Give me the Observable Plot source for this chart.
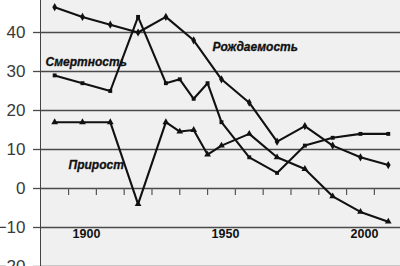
<!DOCTYPE html>
<html><head><meta charset="utf-8">
<script src="https://cdn.jsdelivr.net/npm/d3@7"></script>
<script src="https://cdn.jsdelivr.net/npm/@observablehq/plot@0.6"></script>
<style>
body{margin:0;background:#fff;}
#chart svg{display:block;}
</style>
</head><body><div id="chart"></div>
<script>
// Рождаемость (birth rate, per 1000)
const birthYears  = [1890,1900,1910,1920,1930,1940,1950,1960,1970,1980,1990,2000,2010];
const birthValues = [46.5,44,42,40,44,38,28,22,12,16,11,8,6];
// Смертность (death rate, per 1000)
const deathYears  = [1890,1900,1910,1920,1930,1935,1940,1945,1950,1960,1970,1980,1990,2000,2010];
const deathValues = [29,27,25,44,27,28,23,27,17,8,4,11,13,14,14];
// Прирост (natural growth, per 1000)
const growthYears  = [1890,1900,1910,1920,1930,1935,1940,1945,1950,1960,1970,1980,1990,2000,2010];
const growthValues = [17,17,17,-4,17,14.6,15,8.7,11,14,8,5,-2,-6,-8.5];

const yTicks = [-20,-10,0,10,20,30,40,50];
const xLabels = [1900,1950,2000];
const xTickYears = [1895,1905,1915,1925,1935,1945,1955,1965,1975,1985,1995,2005];

const seriesNames = ["Смертность","Рождаемость","Прирост"];
const labelYears  = [1886.7,1946.8,1895];
const labelValues = [32.3,36.2,5.9];

const toRows = (xs, ys) => xs.map((x, i) => ({x, y: ys[i]}));
const birth = toRows(birthYears, birthValues);
const death = toRows(deathYears, deathValues);
const growth = toRows(growthYears, growthValues);
const labels = seriesNames.map((t, i) => ({t, x: labelYears[i], y: labelValues[i]}));

const lineStyle = {x: "x", y: "y", stroke: "#111", strokeWidth: 2.1};

const chart = Plot.plot({
  width: 400, height: 266,
  marginLeft: 40, marginRight: 0, marginTop: -7, marginBottom: 0,
  style: {background: "white", color: "#333", fontFamily: "'Liberation Sans', Arial, sans-serif", overflow: "visible"},
  x: {domain: [1884.9, 2014.4], axis: null},
  y: {domain: [-20, 50]},
  marks: [
    Plot.frame({fill: "#f0f0f0", stroke: null}),
    Plot.gridY(yTicks, {stroke: "#4a4a4a", strokeOpacity: 1, strokeWidth: 1.3}),
    Plot.axisY(yTicks, {tickSize: 7, tickPadding: 8, fontSize: 17, fill: "#3a3a3a", stroke: "#4a4a4a", strokeWidth: 1.3, label: null}),
    Plot.frame({anchor: "left", stroke: "#444", strokeWidth: 1}),
    Plot.ruleX(xTickYears, {x: d => d, y1: 0, y2: -1.8, stroke: "#555", strokeWidth: 1.2}),
    Plot.axisX(xLabels, {anchor: "bottom", tickSize: 0, tickPadding: 0, dy: -37, dx: 4, fontSize: 12.5, fontWeight: "bold", fill: "#111", tickFormat: d => String(d), label: null}),
    Plot.line(birth, lineStyle),
    Plot.line(death, lineStyle),
    Plot.line(growth, lineStyle),
    Plot.dot(birth, {x: "x", y: "y", symbol: "diamond", r: 2.5, fill: "#111"}),
    Plot.dot(death, {x: "x", y: "y", symbol: "square", r: 2.2, fill: "#111"}),
    Plot.dot(growth, {x: "x", y: "y", symbol: "triangle", r: 2.5, fill: "#111"}),
    Plot.text(labels, {x: "x", y: "y", text: "t", textAnchor: "start", fontSize: 12, fontWeight: "bold", fontStyle: "italic", fill: "#111", stroke: "#111", strokeWidth: 0.3})
  ]
});
document.getElementById("chart").append(chart);
</script>
</body></html>
